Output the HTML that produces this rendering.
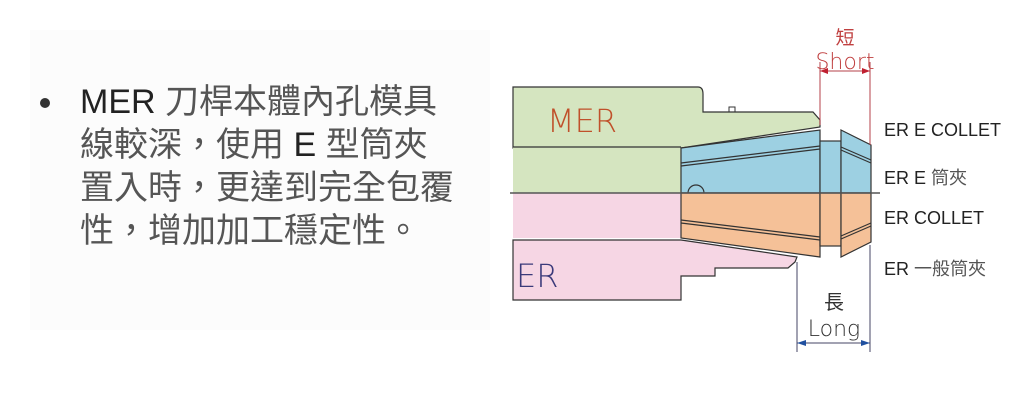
<!DOCTYPE html>
<html><head><meta charset="utf-8"><style>
html,body{margin:0;padding:0;background:#fff;}
body{width:1024px;height:400px;position:relative;overflow:hidden;font-family:"Liberation Sans","Noto Sans CJK TC",sans-serif;}
.t{position:absolute;left:80px;font-size:34px;color:#555;line-height:43px;white-space:nowrap;}
.b{position:absolute;left:40px;top:98px;width:10px;height:10px;border-radius:50%;background:#333;}
.r{position:absolute;left:884px;font-size:18px;color:#222;white-space:nowrap;}
</style></head><body>
<div style="position:absolute;left:30px;top:30px;width:460px;height:300px;background:#fcfcfc"></div>
<div class="b"></div>
<div class="t" style="top:81px"><span style="color:#222">MER</span> 刀桿本體內孔模具</div>
<div class="t" style="top:124px">線較深，使用 <span style="color:#222">E</span> 型筒夾</div>
<div class="t" style="top:167px">置入時，更達到完全包覆</div>
<div class="t" style="top:210px">性，增加加工穩定性。</div>
<div class="r" style="top:120px">ER E COLLET</div>
<div class="r" style="top:164px">ER E <span style="color:#555">筒夾</span></div>
<div class="r" style="top:208px">ER COLLET</div>
<div class="r" style="top:255px">ER <span style="color:#555">一般筒夾</span></div>
<svg width="1024" height="400" style="position:absolute;left:0;top:0">
<g stroke="#333" stroke-width="1.2">
<path d="M513 87 H698 Q703 87 703 94 V112 H813 L820 120 V127 L681 148 H513 Z" fill="#d5e5c0"/>
<rect x="513" y="147" width="168" height="46" fill="#d5e5c0" stroke="none"/>
<line x1="513" y1="147" x2="681" y2="147"/>
<path d="M513 193 H681 V238 H513 Z" fill="#f6d6e4" stroke="none"/>
<path d="M513 240 H681 L797 257 L795 262 L788 268 H715 V276 H681 V300 H513 Z" fill="#f6d6e4"/>
<path d="M681 148 L820 130 V193 H681 Z" fill="#9dd0e2"/>
<path d="M681 193 H820 V257 L681 238 Z" fill="#f5c198"/>
<rect x="820" y="141" width="21" height="52" fill="#9dd0e2"/>
<rect x="820" y="193" width="21" height="53" fill="#f5c198"/>
<path d="M841 130 L871 145 V193 H841 Z" fill="#9dd0e2"/>
<path d="M841 193 H871 V242 L841 257 Z" fill="#f5c198"/>
<line x1="681" y1="163" x2="820" y2="146"/><line x1="681" y1="166" x2="820" y2="149"/>
<line x1="681" y1="220" x2="820" y2="237"/><line x1="681" y1="223" x2="820" y2="240"/>
<line x1="841" y1="147" x2="871" y2="160"/><line x1="841" y1="150" x2="871" y2="163"/>
<line x1="841" y1="236" x2="871" y2="223"/><line x1="841" y1="239" x2="871" y2="226"/>
<path d="M688 193 A8 8 0 0 1 704 193" fill="none"/>
<rect x="729" y="107" width="6" height="5" fill="none" stroke-width="1"/>
</g>
<line x1="510" y1="193" x2="880" y2="193" stroke="#555" stroke-width="1.5"/>
<g stroke="#b5404a" stroke-width="1"><line x1="820" y1="62" x2="820" y2="125"/><line x1="870" y1="62" x2="870" y2="145"/><line x1="820" y1="71" x2="870" y2="71"/></g>
<path d="M820 71 l8 -3 v6 z M870 71 l-8 -3 v6 z" fill="#c02030"/>
<g stroke="#446" stroke-width="1"><line x1="797" y1="262" x2="797" y2="352"/><line x1="870" y1="245" x2="870" y2="352"/><line x1="797" y1="343" x2="870" y2="343"/></g>
<path d="M797 343 l9 -3 v6 z M870 343 l-9 -3 v6 z" fill="#2050a0"/>
<text x="845" y="44" font-size="19" fill="#c04040" text-anchor="middle" font-family="Noto Sans CJK TC,sans-serif">短</text>
<text x="845" y="69" font-size="22" fill="#c04040" text-anchor="middle" font-family="DejaVu Sans,sans-serif" font-weight="200">Short</text>
<text x="834" y="309" font-size="20" fill="#333" text-anchor="middle" font-family="Noto Sans CJK TC,sans-serif">長</text>
<text x="834" y="336" font-size="22" fill="#333" text-anchor="middle" font-family="DejaVu Sans,sans-serif" font-weight="200">Long</text>
<text x="547" y="132" font-size="32" fill="#c0502a" font-family="DejaVu Sans,sans-serif" font-weight="200">MER</text>
<text x="516" y="287" font-size="32" fill="#3a3a7a" font-family="DejaVu Sans,sans-serif" font-weight="200">ER</text>
</svg>
</body></html>
